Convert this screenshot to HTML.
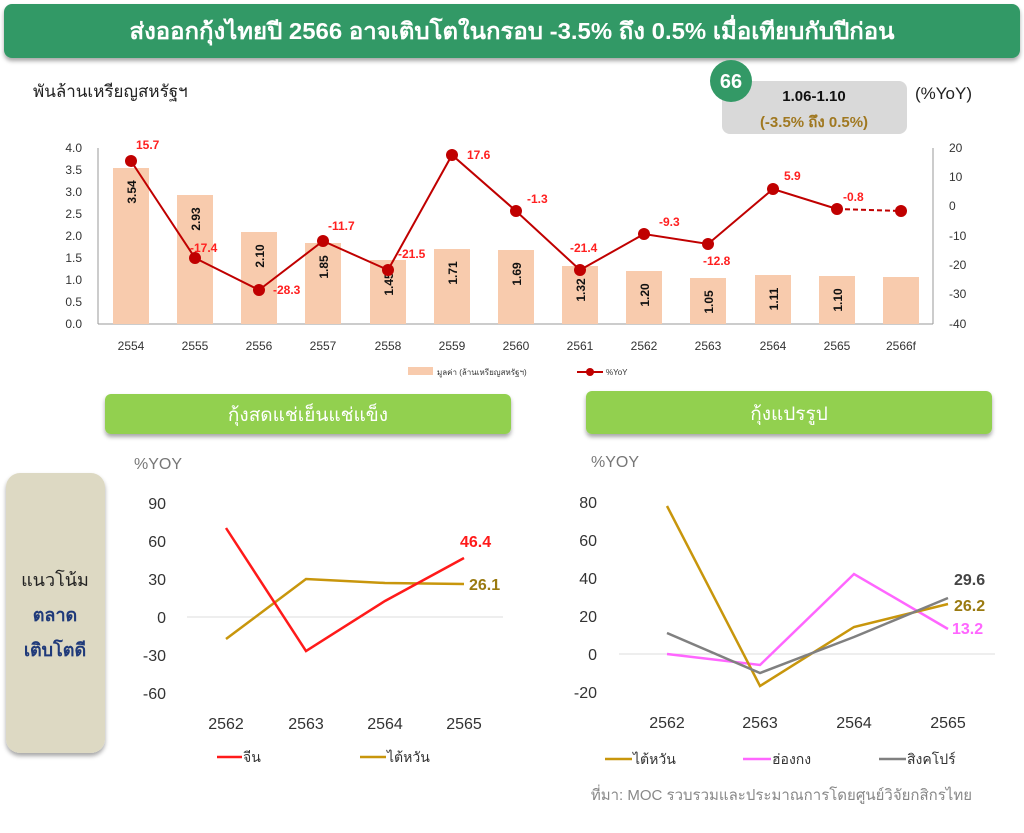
<!DOCTYPE html>
<html><head><meta charset="utf-8"><style>
body{margin:0;background:#fff;width:1024px;height:828px;overflow:hidden;font-family:"Liberation Sans","Noto Sans CJK SC",sans-serif}
</style></head><body>
<svg width="1024" height="828" xmlns="http://www.w3.org/2000/svg" font-family="Liberation Sans, Noto Sans CJK SC, sans-serif">
<defs><filter id="sh" x="-5%" y="-20%" width="110%" height="150%"><feDropShadow dx="0" dy="3" stdDeviation="2" flood-color="#000" flood-opacity="0.35"/></filter></defs>
<rect x="4" y="4" width="1016" height="54" rx="8" fill="#339966" filter="url(#sh)"/>
<text x="512" y="39" text-anchor="middle" fill="#fff" font-size="23" font-weight="bold" textLength="765" lengthAdjust="spacingAndGlyphs">ส่งออกกุ้งไทยปี 2566 อาจเติบโตในกรอบ -3.5% ถึง 0.5% เมื่อเทียบกับปีก่อน</text>
<text x="33" y="97" fill="#222" font-size="17">พันล้านเหรียญสหรัฐฯ</text>
<rect x="722" y="81" width="185" height="53" rx="8" fill="#d9d9d9"/>
<circle cx="731" cy="81" r="21" fill="#339966"/>
<text x="731" y="88" text-anchor="middle" fill="#fff" font-size="20" font-weight="bold">66</text>
<text x="814" y="101" text-anchor="middle" fill="#111" font-size="15" font-weight="bold">1.06-1.10</text>
<text x="814" y="127" text-anchor="middle" fill="#a07820" font-size="15" font-weight="bold">(-3.5% ถึง 0.5%)</text>
<text x="915" y="99" fill="#222" font-size="17">(%YoY)</text>
<g font-size="12" fill="#333">
<line x1="98" y1="148" x2="98" y2="324" stroke="#999"/>
<line x1="98" y1="324" x2="933" y2="324" stroke="#999"/>
<line x1="933" y1="148" x2="933" y2="324" stroke="#999"/>
<g text-anchor="end">
<text x="82" y="152">4.0</text><text x="82" y="174">3.5</text><text x="82" y="196">3.0</text><text x="82" y="218">2.5</text><text x="82" y="240">2.0</text><text x="82" y="262">1.5</text><text x="82" y="284">1.0</text><text x="82" y="306">0.5</text><text x="82" y="328">0.0</text>
</g>
<g>
<text x="949" y="152">20</text><text x="949" y="181">10</text><text x="949" y="210">0</text><text x="949" y="240">-10</text><text x="949" y="269">-20</text><text x="949" y="298">-30</text><text x="949" y="328">-40</text>
</g>
<g text-anchor="middle">
<text x="131" y="350">2554</text><text x="195" y="350">2555</text><text x="259" y="350">2556</text><text x="323" y="350">2557</text><text x="388" y="350">2558</text><text x="452" y="350">2559</text><text x="516" y="350">2560</text><text x="580" y="350">2561</text><text x="644" y="350">2562</text><text x="708" y="350">2563</text><text x="773" y="350">2564</text><text x="837" y="350">2565</text><text x="901" y="350">2566f</text>
</g>
</g>
<g fill="#f8cbad">
<rect x="113" y="168" width="36" height="156"/><rect x="177" y="195" width="36" height="129"/><rect x="241" y="232" width="36" height="92"/><rect x="305" y="243" width="36" height="81"/><rect x="370" y="260" width="36" height="64"/><rect x="434" y="249" width="36" height="75"/><rect x="498" y="250" width="36" height="74"/><rect x="562" y="266" width="36" height="58"/><rect x="626" y="271" width="36" height="53"/><rect x="690" y="278" width="36" height="46"/><rect x="755" y="275" width="36" height="49"/><rect x="819" y="276" width="36" height="48"/><rect x="883" y="277" width="36" height="47"/>
</g>
<g font-size="12" font-weight="bold" fill="#111" text-anchor="middle">
<text transform="translate(136,192) rotate(-90)">3.54</text>
<text transform="translate(200,219) rotate(-90)">2.93</text>
<text transform="translate(264,256) rotate(-90)">2.10</text>
<text transform="translate(328,267) rotate(-90)">1.85</text>
<text transform="translate(393,284) rotate(-90)">1.45</text>
<text transform="translate(457,273) rotate(-90)">1.71</text>
<text transform="translate(521,274) rotate(-90)">1.69</text>
<text transform="translate(585,290) rotate(-90)">1.32</text>
<text transform="translate(649,295) rotate(-90)">1.20</text>
<text transform="translate(713,302) rotate(-90)">1.05</text>
<text transform="translate(778,299) rotate(-90)">1.11</text>
<text transform="translate(842,300) rotate(-90)">1.10</text>
</g>
<polyline fill="none" stroke="#c00000" stroke-width="2" points="131,161 195,258 259,290 323,241 388,270 452,155 516,211 580,270 644,234 708,244 773,189 837,209"/>
<line x1="837" y1="209" x2="901" y2="211" stroke="#c00000" stroke-width="2" stroke-dasharray="5,3"/>
<g fill="#c00000">
<circle cx="131" cy="161" r="6"/><circle cx="195" cy="258" r="6"/><circle cx="259" cy="290" r="6"/><circle cx="323" cy="241" r="6"/><circle cx="388" cy="270" r="6"/><circle cx="452" cy="155" r="6"/><circle cx="516" cy="211" r="6"/><circle cx="580" cy="270" r="6"/><circle cx="644" cy="234" r="6"/><circle cx="708" cy="244" r="6"/><circle cx="773" cy="189" r="6"/><circle cx="837" cy="209" r="6"/><circle cx="901" cy="211" r="6"/>
</g>
<g font-size="12" font-weight="bold" fill="#ff2020">
<text x="136" y="149">15.7</text><text x="190" y="252">-17.4</text><text x="273" y="294">-28.3</text><text x="328" y="230">-11.7</text><text x="398" y="258">-21.5</text><text x="467" y="159">17.6</text><text x="527" y="203">-1.3</text><text x="570" y="252">-21.4</text><text x="659" y="226">-9.3</text><text x="703" y="265">-12.8</text><text x="784" y="180">5.9</text><text x="843" y="201">-0.8</text>
</g>
<rect x="408" y="367" width="25" height="8" fill="#f8cbad"/>
<text x="437" y="375" font-size="8" fill="#333">มูลค่า (ล้านเหรียญสหรัฐฯ)</text>
<line x1="577" y1="372" x2="603" y2="372" stroke="#c00000" stroke-width="2"/><circle cx="590" cy="372" r="4" fill="#c00000"/>
<text x="606" y="375" font-size="8" fill="#333">%YoY</text>
<rect x="105" y="394" width="406" height="40" rx="6" fill="#92d050" filter="url(#sh)"/>
<text x="308" y="421" text-anchor="middle" fill="#fff" font-size="19">กุ้งสดแช่เย็นแช่แข็ง</text>
<rect x="586" y="391" width="406" height="43" rx="6" fill="#92d050" filter="url(#sh)"/>
<text x="789" y="420" text-anchor="middle" fill="#fff" font-size="19">กุ้งแปรรูป</text>
<rect x="6" y="473" width="99" height="280" rx="14" fill="#ddd9c3" filter="url(#sh)"/>
<text x="55" y="586" text-anchor="middle" fill="#222" font-size="18">แนวโน้ม</text>
<text x="55" y="621" text-anchor="middle" fill="#1f3a7a" font-size="18" font-weight="bold">ตลาด</text>
<text x="55" y="656" text-anchor="middle" fill="#1f3a7a" font-size="18" font-weight="bold">เติบโตดี</text>
<text x="134" y="469" fill="#777" font-size="16">%YOY</text>
<g font-size="16" fill="#333" text-anchor="end">
<text x="166" y="509">90</text><text x="166" y="547">60</text><text x="166" y="585">30</text><text x="166" y="623">0</text><text x="166" y="661">-30</text><text x="166" y="699">-60</text>
</g>
<line x1="187" y1="617" x2="503" y2="617" stroke="#ddd"/>
<g font-size="16" fill="#333" text-anchor="middle">
<text x="226" y="729">2562</text><text x="306" y="729">2563</text><text x="385" y="729">2564</text><text x="464" y="729">2565</text>
</g>
<polyline fill="none" stroke="#c8960c" stroke-width="2.5" points="226,639 306,579 385,583 464,584"/>
<polyline fill="none" stroke="#ff1a1a" stroke-width="2.5" points="226,528 306,651 385,601 464,558"/>
<text x="460" y="547" fill="#ff1a1a" font-size="16" font-weight="bold">46.4</text>
<text x="469" y="590" fill="#9a7a10" font-size="16" font-weight="bold">26.1</text>
<line x1="217" y1="757" x2="242" y2="757" stroke="#ff1a1a" stroke-width="2.5"/>
<text x="243" y="762" fill="#333" font-size="14">จีน</text>
<line x1="360" y1="757" x2="386" y2="757" stroke="#c8960c" stroke-width="2.5"/>
<text x="387" y="762" fill="#333" font-size="14">ไต้หวัน</text>
<text x="591" y="467" fill="#777" font-size="16">%YOY</text>
<g font-size="16" fill="#333" text-anchor="end">
<text x="597" y="508">80</text><text x="597" y="546">60</text><text x="597" y="584">40</text><text x="597" y="622">20</text><text x="597" y="660">0</text><text x="597" y="698">-20</text>
</g>
<line x1="619" y1="654" x2="995" y2="654" stroke="#ddd"/>
<g font-size="16" fill="#333" text-anchor="middle">
<text x="667" y="728">2562</text><text x="760" y="728">2563</text><text x="854" y="728">2564</text><text x="948" y="728">2565</text>
</g>
<polyline fill="none" stroke="#ff66ff" stroke-width="2.5" points="667,654 760,665 854,574 948,629"/>
<polyline fill="none" stroke="#c8960c" stroke-width="2.5" points="667,506 760,686 854,627 948,604"/>
<polyline fill="none" stroke="#808080" stroke-width="2.5" points="667,633 760,673 854,637 948,598"/>
<text x="954" y="585" fill="#444" font-size="16" font-weight="bold">29.6</text>
<text x="954" y="611" fill="#9a7a10" font-size="16" font-weight="bold">26.2</text>
<text x="952" y="634" fill="#ff66ff" font-size="16" font-weight="bold">13.2</text>
<line x1="605" y1="759" x2="632" y2="759" stroke="#c8960c" stroke-width="2.5"/>
<text x="633" y="764" fill="#333" font-size="14">ไต้หวัน</text>
<line x1="743" y1="759" x2="771" y2="759" stroke="#ff66ff" stroke-width="2.5"/>
<text x="772" y="764" fill="#333" font-size="14">ฮ่องกง</text>
<line x1="879" y1="759" x2="906" y2="759" stroke="#808080" stroke-width="2.5"/>
<text x="907" y="764" fill="#333" font-size="14">สิงคโปร์</text>
<text x="972" y="800" text-anchor="end" fill="#888" font-size="15">ที่มา: MOC รวบรวมและประมาณการโดยศูนย์วิจัยกสิกรไทย</text>
</svg>
</body></html>
